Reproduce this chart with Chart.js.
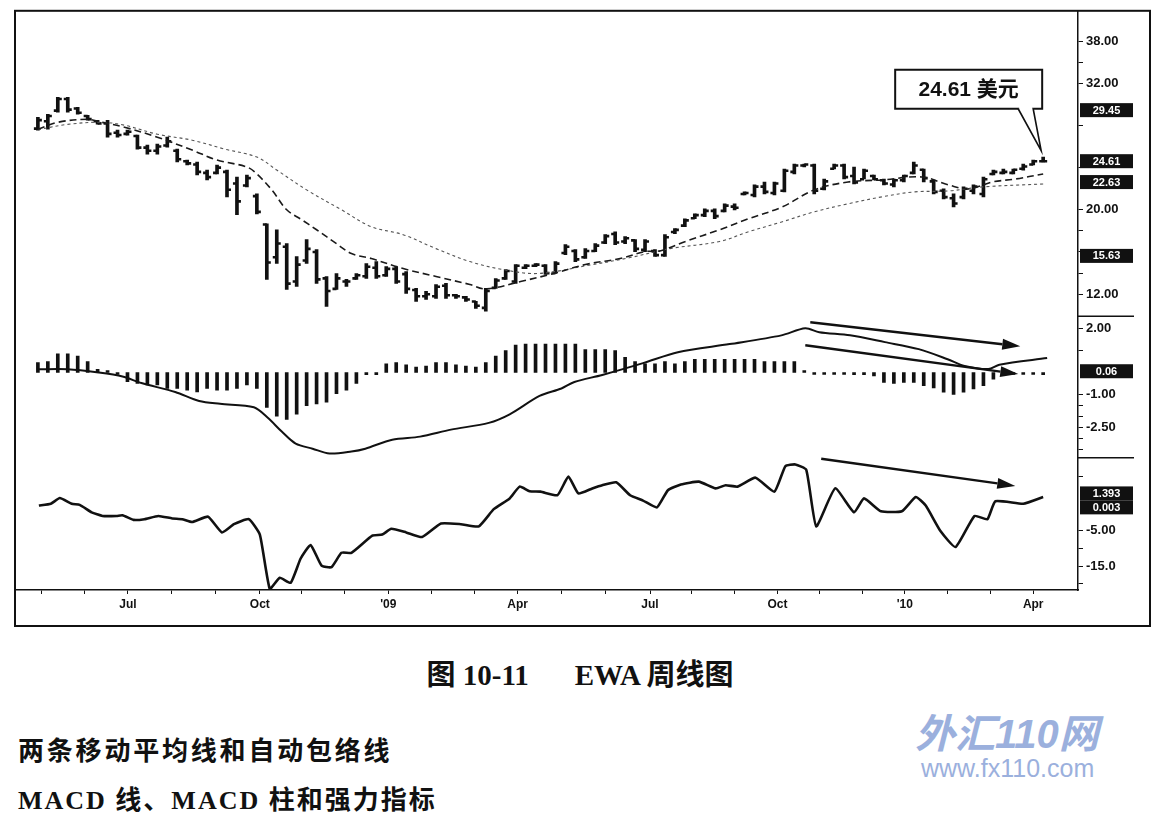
<!DOCTYPE html>
<html lang="zh">
<head>
<meta charset="utf-8">
<title>EWA 周线图</title>
<script src="https://cdn.jsdelivr.net/npm/chart.js@4.4.1/dist/chart.umd.min.js"></script>
<style>
  html, body { margin: 0; padding: 0; background: #fff; }
  body { width: 1160px; height: 826px; position: relative; overflow: hidden; color: #111;
         font-family: "Liberation Serif", "Noto Sans CJK SC", serif; }
  #wrap { position: absolute; left: 0; top: 0; width: 1160px; height: 640px; }
  .caption { position: absolute; top: 651px; left: 0; width: 1160px; text-align: center;
             font-size: 29px; font-weight: bold; white-space: nowrap; }
  .caption .gap { display: inline-block; width: 46px; }
  .note { position: absolute; left: 18px; font-size: 26px; font-weight: bold; letter-spacing: 2.8px; white-space: nowrap; }
  .note2 { letter-spacing: 2px; }
  .mark { position: absolute; color: #9bb0dd; white-space: nowrap; font-family: "Liberation Sans", "Noto Sans CJK SC", sans-serif; }
</style>
</head>
<body>
<div id="wrap"><canvas id="chart"></canvas></div>
<div class="caption">图 10-11<span class="gap"></span>EWA 周线图</div>
<div class="note" style="top:730px">两条移动平均线和自动包络线</div>
<div class="note note2" style="top:779px">MACD 线、MACD 柱和强力指标</div>
<div class="mark" style="left:915px; top:702px; font-size:40px; font-weight:bold; font-style:italic;">外汇110网</div>
<div class="mark" style="left:921px; top:754px; font-size:25px;">www.fx110.com</div>

<script>
// ── Data (week 0 = early May 2008) ──

var opens = [27.7, 28.4, 29.4, 30.5, 29.6, 28.9, 28.4, 28.2, 27.3, 27.2,
  27.0, 25.9, 25.6, 26.1, 25.6, 24.6, 24.3, 23.5, 23.5, 23.6,
  22.5, 22.3, 21.3, 18.6, 15.5, 16.5, 13.2, 15.2, 16.0, 13.5,
  12.5, 13.2, 13.5, 13.7, 14.5, 13.8, 14.4, 13.9, 12.4, 11.8,
  11.8, 12.8, 11.9, 11.7, 11.3, 10.7, 12.6, 13.5, 13.2, 14.5,
  14.7, 14.7, 14.0, 15.9, 16.1, 15.5, 16.1, 16.9, 17.7, 17.0,
  17.1, 16.2, 16.1, 15.7, 17.9, 18.5, 19.2, 19.5, 19.9, 19.9,
  20.3, 21.5, 21.4, 22.2, 21.6, 21.8, 23.6, 24.2, 24.2, 22.0,
  23.9, 24.2, 23.2, 22.9, 23.2, 22.8, 22.4, 22.8, 23.5, 23.8,
  22.7, 21.8, 21.1, 21.2, 21.8, 21.5, 23.4, 23.5, 23.5, 23.9,
  24.3, 24.6];
var highs = [28.77, 29.06, 30.66, 30.66, 29.72, 28.96, 28.49, 28.49, 27.55, 27.55,
  27.08, 26.13, 26.23, 26.89, 25.75, 24.72, 24.53, 23.77, 24.25, 23.77,
  23.11, 23.30, 21.51, 18.68, 18.11, 16.79, 15.57, 17.17, 16.23, 13.68,
  13.96, 13.40, 13.96, 14.91, 15.09, 14.62, 14.62, 14.15, 12.55, 12.26,
  12.92, 13.02, 11.98, 11.79, 11.32, 12.55, 13.49, 14.34, 14.81, 14.81,
  14.91, 14.81, 15.09, 16.70, 16.23, 16.32, 16.79, 17.64, 17.92, 17.45,
  17.17, 17.17, 16.23, 17.64, 18.21, 19.15, 19.62, 20.09, 20.09, 20.57,
  20.57, 21.70, 22.36, 22.64, 22.64, 23.87, 24.34, 24.34, 24.34, 22.92,
  24.34, 24.34, 24.06, 23.87, 23.30, 22.92, 22.92, 23.30, 24.53, 23.87,
  22.83, 21.98, 21.51, 22.17, 22.36, 23.11, 23.77, 23.87, 23.87, 24.34,
  24.72, 25.00];
var lows = [27.55, 27.64, 29.25, 29.25, 29.06, 28.49, 28.11, 26.89, 26.89, 27.08,
  25.75, 25.28, 25.28, 25.94, 24.53, 24.25, 23.30, 22.83, 23.40, 21.23,
  19.53, 22.17, 19.62, 13.40, 14.91, 12.45, 12.74, 14.91, 13.02, 10.85,
  12.45, 12.74, 13.40, 13.49, 13.49, 13.68, 13.02, 12.08, 11.32, 11.51,
  11.60, 11.60, 11.60, 11.32, 10.66, 10.38, 12.55, 13.40, 13.02, 14.43,
  14.62, 13.87, 13.96, 15.75, 15.09, 15.38, 16.04, 16.79, 16.70, 16.79,
  16.04, 16.04, 15.57, 15.57, 17.74, 18.40, 19.15, 19.34, 19.15, 19.81,
  20.00, 21.42, 21.23, 21.51, 21.42, 21.70, 23.40, 24.06, 21.51, 21.89,
  23.87, 22.92, 22.45, 22.92, 22.83, 22.36, 22.17, 22.64, 23.40, 22.64,
  21.51, 21.04, 20.28, 21.04, 21.51, 21.23, 23.30, 23.40, 23.40, 23.77,
  24.25, 24.53];
var closes = [28.5, 28.9, 30.5, 29.5, 29.2, 28.6, 28.2, 27.2, 27.1, 27.4,
  25.9, 25.6, 26.0, 26.5, 24.8, 24.4, 23.6, 23.1, 24.0, 21.9,
  20.8, 23.0, 19.8, 15.0, 16.8, 13.0, 14.8, 16.3, 13.4, 12.3,
  13.5, 13.2, 13.8, 14.6, 13.7, 14.4, 13.2, 12.5, 11.8, 12.0,
  12.7, 11.9, 11.8, 11.5, 10.9, 12.3, 13.3, 14.2, 14.7, 14.7,
  14.8, 14.0, 14.9, 16.5, 15.3, 16.1, 16.6, 17.5, 16.9, 17.3,
  16.3, 17.0, 15.7, 17.4, 18.1, 19.0, 19.5, 19.9, 19.4, 20.4,
  20.2, 21.6, 22.2, 21.7, 22.5, 23.7, 24.2, 24.3, 21.8, 22.7,
  24.2, 23.1, 22.6, 23.7, 22.9, 22.5, 22.8, 23.2, 24.2, 23.0,
  21.7, 21.2, 20.6, 22.0, 22.2, 22.9, 23.6, 23.6, 23.8, 24.1,
  24.6, 24.61];

// fast (dashed) and slow (dotted) moving averages, sampled where readable
var fastMaX = [0, 2, 5, 6.4, 8.7, 12, 15.5, 18, 21, 22, 23.5, 25, 26.5, 28, 30, 31.5, 33.5, 36.7, 40, 43.4,
  45, 48.5, 51.8, 55, 58.5, 61, 62.5, 65, 68.5, 71.4, 74.8, 78, 81.4, 84.8, 88.8, 91.5, 93.5, 95.9, 98.2, 101];
var fastMaY = [27.64, 28.30, 28.58, 28.30, 27.83, 26.89, 25.66, 24.72, 24.06, 23.40, 21.89, 20.00, 19.06, 18.11, 16.79, 15.85, 15.38, 14.43, 13.68, 12.92,
  12.50, 13.20, 13.96, 14.81, 15.38, 16.04, 16.10, 16.98, 18.11, 19.15, 20.28, 21.89, 22.64, 22.83, 23.11, 22.36, 21.98, 22.64, 22.92, 23.40];
var slowMaX = [0, 3, 6.4, 8.7, 12, 15.5, 18.8, 22, 24, 27, 30.5, 33.5, 36.7, 40, 43.4, 46.7, 50.2, 55.2, 59.5, 63.5,
  68.5, 71.4, 74.8, 78, 81.4, 84.8, 88.1, 91.5, 94.9, 101];
var slowMaY = [27.6, 28.1, 28.30, 28.02, 27.17, 26.60, 25.75, 25.00, 23.77, 21.89, 20.00, 18.40, 17.64, 16.32, 15.09, 14.34, 13.96, 14.72, 15.47, 16.32,
  17.00, 17.92, 18.87, 19.81, 20.57, 21.23, 21.70, 21.79, 22.17, 22.45];

var macdHist = [0.45, 0.5, 0.85, 0.85, 0.75, 0.5, 0.15, 0.05, -0.05, -0.42,
  -0.5, -0.57, -0.57, -0.73, -0.73, -0.81, -0.89, -0.73, -0.81, -0.81,
  -0.73, -0.57, -0.73, -1.6, -1.99, -2.14, -1.9, -1.51, -1.44, -1.36,
  -0.97, -0.81, -0.5, -0.1, -0.1, 0.4, 0.45, 0.35, 0.25, 0.3,
  0.45, 0.45, 0.35, 0.3, 0.25, 0.45, 0.75, 1.0, 1.25, 1.3,
  1.3, 1.3, 1.3, 1.3, 1.3, 1.05, 1.05, 1.05, 1.0, 0.7,
  0.5, 0.4, 0.4, 0.5, 0.4, 0.5, 0.6, 0.6, 0.6, 0.6,
  0.6, 0.6, 0.6, 0.5, 0.5, 0.5, 0.5, 0.05, -0.05, -0.05,
  -0.05, -0.05, -0.1, -0.1, -0.15, -0.45, -0.5, -0.45, -0.45, -0.6,
  -0.7, -0.9, -1.0, -0.9, -0.75, -0.6, -0.3, -0.05, -0.05, -0.05,
  -0.05, -0.1];
var macdLineX = [0, 3, 6.1, 8.5, 10.4, 13.8, 16.2, 18.3, 21.7, 23.1, 24.5, 25.9, 27.6, 29.3, 31.5, 32.9, 35.6, 38.4, 41.5, 45.3,
  47.4, 50.4, 52.6, 53.9, 56.7, 60.8, 64.3, 69.5, 74.7, 77.1, 78.5, 81.6, 85.1, 88.5, 91.4, 93.1, 95.5, 96.6, 101.4];
var macdLineY = [0.15, 0.15, 0.0, -0.18, -0.48, -0.89, -1.30, -1.43, -1.59, -2.07, -2.70, -3.25, -3.48, -3.70, -3.61, -3.48, -3.07, -2.93, -2.61, -2.30,
  -1.91, -1.07, -0.73, -0.43, -0.11, 0.43, 0.93, 1.30, 1.70, 2.02, 1.84, 1.70, 1.39, 1.07, 0.61, 0.30, 0.16, 0.36, 0.66];

var forceX = [0.1, 1.3, 2.2, 3.4, 4.2, 5.4, 6.5, 7.9, 8.5, 9.6, 10.7, 12.1, 13.5, 14.5, 15.5, 17.1, 18.5, 19.7, 21.2, 22.3,
  23.3, 24.3, 25.4, 26.4, 27.4, 28.5, 29.5, 30.5, 31.5, 33.6, 34.6, 35.5, 37.0, 38.6, 40.5, 42.5, 44.3, 45.8, 47.4, 48.4,
  49.4, 50.5, 52.2, 53.3, 54.3, 55.7, 56.7, 58.1, 59.5, 60.8, 62.2, 63.3, 64.6, 66.4, 68.1, 69.1, 70.3, 72.1, 74.0, 75.1,
  76.1, 77.2, 78.2, 80.1, 82.0, 83.0, 84.7, 86.8, 88.2, 89.2, 90.7, 92.2, 94.1, 95.4, 96.2, 99.0, 101.0];
var forceY = [1.9, 2.4, 4.0, 2.4, 2.1, 0, -1.0, -1.0, -0.8, -2.1, -1.9, -1.0, -1.7, -1.9, -2.7, -1.2, -5.6, -3.3, -1.9, -6.2,
  -21.4, -18.3, -19.7, -12.9, -9.1, -14.9, -15.3, -11.3, -11.3, -6.5, -6.2, -4.6, -5.6, -6.9, -3.1, -3.3, -3.9, 0.9, 3.9, 7.2,
  5.9, 5.8, 4.8, 10.0, 5.3, 6.7, 7.6, 8.4, 4.8, 3.3, 1.4, 6.2, 7.8, 8.6, 6.7, 7.6, 7.2, 9.7, 5.8, 12.9,
  13.4, 11.9, -3.9, 6.7, 0, 3.9, 0.3, 0.3, 4.3, 1.9, -5.3, -9.7, -1.0, -1.9, 3.1, 2.4, 4.3];

// axis ticks ('' = unlabeled minor tick)
var xTickPos = [0.4, 4.7, 9.05, 13.4, 17.8, 22.3, 26.5, 30.8, 35.2, 39.5, 43.9, 48.2,
  52.6, 57, 61.5, 65.7, 70, 74.3, 78.5, 82.8, 87.1, 91.4, 95.7, 100];
var xTickLabels = ["", "", "Jul", "", "", "Oct", "", "", "'09", "", "", "Apr",
  "", "", "Jul", "", "", "Oct", "", "", "'10", "", "", "Apr"];
var priceTicks = [12, 14, 16, 18, 20, 24, 28, 32, 34, 36];
var priceTickLabels = ["12.00", "", "", "", "20.00", "", "", "32.00", "", "38.00"];
var macdTicks = [-3.5, -3, -2.5, -2, -1.5, -1, 1, 2];
var macdTickLabels = ["", "", "-2.50", "", "", "-1.00", "", "2.00"];
var forceTicks = [-20, -15, -10, -5, 10];
var forceTickLabels = ["", "-15.0", "", "-5.00", ""];

// boxed last-value labels on the axis
var priceBoxVals = [29.45, 24.61, 22.63, 15.63];
var priceBoxText = ["29.45", "24.61", "22.63", "15.63"];
var macdBoxVals = [0.06];
var macdBoxText = ["0.06"];
var forceBoxVals = [5.3, 1.4];
var forceBoxText = ["1.393", "0.003"];

// hand-drawn divergence arrows (week, value)
var arrowAxis = ["yM", "yM", "yF"];
var arrowFrom = [[77.6, 2.3], [77.1, 1.25], [78.7, 15.0]];
var arrowTo = [[98.7, 1.2], [98.5, -0.07], [98.2, 7.4]];

var calloutAt = [100.8, 25.6];
var calloutText = "24.61 美元";

(function () {
  "use strict";

  var INK = "#111";
  var AXIS_FONT = { family: "'Liberation Sans', Arial, sans-serif", size: 13, weight: "bold" };

  function pairs(xs, ys) {
    return xs.map(function (x, i) { return { x: x, y: ys[i] }; });
  }
  var weeks = closes.map(function (c, i) { return i; });

  // ── Axis helpers ────────────────────────────────

  function fixedTicks(values, labels) {
    return {
      afterBuildTicks: function (ax) { ax.ticks = values.map(function (v) { return { value: v }; }); },
      callback: function (v, i) { return labels[i]; }
    };
  }

  function yAxis(min, max, weight, values, labels) {
    var t = fixedTicks(values, labels);
    return {
      type: "linear", position: "right", stack: "panes", stackWeight: weight,
      min: min, max: max,
      afterBuildTicks: t.afterBuildTicks,
      afterFit: function (ax) { ax.width = 72; },
      grid: { drawOnChartArea: false, color: INK, tickLength: 5, lineWidth: 1 },
      border: { display: true, color: INK, width: 1.5 },
      ticks: { autoSkip: false, padding: 3, color: INK, font: AXIS_FONT, callback: t.callback }
    };
  }

  var xt = fixedTicks(xTickPos, xTickLabels);

  // ── Overlay: arrows, callout, value boxes, frame ─

  function drawArrow(ctx, x1, y1, x2, y2) {
    var ang = Math.atan2(y2 - y1, x2 - x1), len = 18, half = 5.5;
    var bx = x2 - Math.cos(ang) * len, by = y2 - Math.sin(ang) * len;
    ctx.beginPath();
    ctx.moveTo(x1, y1);
    ctx.lineTo(bx, by);
    ctx.lineWidth = 2.4;
    ctx.stroke();
    ctx.beginPath();
    ctx.moveTo(x2, y2);
    ctx.lineTo(bx + Math.sin(ang) * half, by - Math.cos(ang) * half);
    ctx.lineTo(bx - Math.sin(ang) * half, by + Math.cos(ang) * half);
    ctx.closePath();
    ctx.fill();
  }

  var overlay = {
    id: "overlay",
    afterDraw: function (chart) {
      var ctx = chart.ctx, ca = chart.chartArea, sx = chart.scales.x;
      var yP = chart.scales.yP, yM = chart.scales.yM, yF = chart.scales.yF;
      ctx.save();
      ctx.strokeStyle = INK;
      ctx.fillStyle = INK;

      arrowFrom.forEach(function (f, i) {
        var sc = chart.scales[arrowAxis[i]], t = arrowTo[i];
        drawArrow(ctx, sx.getPixelForValue(f[0]), sc.getPixelForValue(f[1]),
          sx.getPixelForValue(t[0]), sc.getPixelForValue(t[1]));
      });

      // callout box with tail
      var tx = sx.getPixelForValue(calloutAt[0]), ty = yP.getPixelForValue(calloutAt[1]);
      var bw = 147, bh = 39, bx = tx - 146, by = ty - 81;
      ctx.fillStyle = "#fff";
      ctx.fillRect(bx, by, bw, bh);
      ctx.lineWidth = 2;
      ctx.strokeRect(bx, by, bw, bh);
      ctx.beginPath();
      ctx.moveTo(tx - 23, by + bh);
      ctx.lineTo(tx, ty);
      ctx.lineTo(tx - 8, by + bh);
      ctx.closePath();
      ctx.fill();
      ctx.fillRect(tx - 22, by + bh - 2, 13, 3);
      ctx.beginPath();
      ctx.moveTo(tx - 23, by + bh);
      ctx.lineTo(tx, ty);
      ctx.lineTo(tx - 8, by + bh);
      ctx.lineWidth = 1.6;
      ctx.stroke();
      ctx.fillStyle = INK;
      ctx.font = "bold 21px 'Liberation Sans', 'Noto Sans CJK SC', sans-serif";
      ctx.textAlign = "center";
      ctx.textBaseline = "middle";
      ctx.fillText(calloutText, bx + bw / 2, by + bh / 2 + 1);

      // pane separators in the axis column
      ctx.lineWidth = 1.5;
      [yP.bottom, yM.bottom].forEach(function (y) {
        ctx.beginPath();
        ctx.moveTo(ca.right, y);
        ctx.lineTo(ca.right + 56, y);
        ctx.stroke();
      });

      // black value boxes
      ctx.font = "bold 11px 'Liberation Sans', Arial, sans-serif";
      function boxes(sc, vals, texts) {
        vals.forEach(function (v, i) {
          var y = sc.getPixelForValue(v);
          ctx.fillStyle = INK;
          ctx.fillRect(ca.right + 2, y - 7, 53, 14);
          ctx.fillStyle = "#fff";
          ctx.fillText(texts[i], ca.right + 28.5, y + 0.5);
        });
      }
      boxes(yP, priceBoxVals, priceBoxText);
      boxes(yM, macdBoxVals, macdBoxText);
      boxes(yF, forceBoxVals, forceBoxText);

      // outer frame: from the plot's left/top edge to the far side of the axis column
      ctx.lineWidth = 2;
      ctx.strokeStyle = INK;
      ctx.strokeRect(ca.left, ca.top, ca.right + 72 - ca.left, 626 - ca.top);
      ctx.restore();
    }
  };

  // ── Chart ───────────────────────────────────────

  new Chart(document.getElementById("chart"), {
    data: {
      datasets: [
        { type: "line", label: "快速均线", data: pairs(fastMaX, fastMaY), yAxisID: "yP",
          borderColor: "#1a1a1a", borderWidth: 1.6, borderDash: [7, 4], pointRadius: 0, tension: 0.35, order: 0 },
        { type: "line", label: "慢速均线", data: pairs(slowMaX, slowMaY), yAxisID: "yP",
          borderColor: "#555", borderWidth: 1.1, borderDash: [3, 3], pointRadius: 0, tension: 0.35, order: 0 },
        { type: "line", label: "开盘", data: pairs(weeks, opens), yAxisID: "yP", showLine: false,
          borderColor: INK, pointStyle: "dash", pointRadius: 4, pointBorderWidth: 2.6, pointRotation: 180, order: 1 },
        { type: "line", label: "收盘", data: pairs(weeks, closes), yAxisID: "yP", showLine: false,
          borderColor: INK, pointStyle: "dash", pointRadius: 4, pointBorderWidth: 2.6, pointRotation: 0, order: 1 },
        { type: "bar", label: "高低", yAxisID: "yP", grouped: false, barThickness: 3, backgroundColor: INK, order: 2,
          data: weeks.map(function (i) { return { x: i, y: [lows[i], highs[i]] }; }) },
        { type: "bar", label: "MACD 柱", yAxisID: "yM", grouped: false, barThickness: 3, minBarLength: 2,
          backgroundColor: INK, order: 2, data: pairs(weeks, macdHist) },
        { type: "line", label: "MACD 线", data: pairs(macdLineX, macdLineY), yAxisID: "yM",
          borderColor: INK, borderWidth: 2, pointRadius: 0, tension: 0.3, order: 0 },
        { type: "line", label: "强力指标", data: pairs(forceX, forceY), yAxisID: "yF",
          borderColor: INK, borderWidth: 2.6, pointRadius: 0, tension: 0.15, order: 0 }
      ]
    },
    options: {
      responsive: true, maintainAspectRatio: false, animation: false, events: [],
      layout: { padding: { left: 15, top: 8, right: 10, bottom: 12 } },
      plugins: { legend: { display: false }, tooltip: { enabled: false } },
      scales: {
        x: {
          type: "linear", position: "bottom", min: -2.3, max: 104.5, offset: false,
          afterBuildTicks: xt.afterBuildTicks,
          afterFit: function (ax) { ax.height = 38; },
          grid: { drawOnChartArea: false, offset: false, color: INK, tickLength: 4 },
          border: { display: true, color: INK, width: 1.5 },
          ticks: { autoSkip: false, maxRotation: 0, padding: 3, color: INK,
                   font: { family: AXIS_FONT.family, size: 12, weight: "bold" }, callback: xt.callback }
        },
        yP: yAxis(9.9, 38.87, 307, priceTicks, priceTickLabels),
        yM: yAxis(-3.89, 2.57, 142, macdTicks, macdTickLabels),
        yF: yAxis(-21.7, 15.3, 133, forceTicks, forceTickLabels)
      }
    },
    plugins: [overlay]
  });
})();
</script>
</body>
</html>
